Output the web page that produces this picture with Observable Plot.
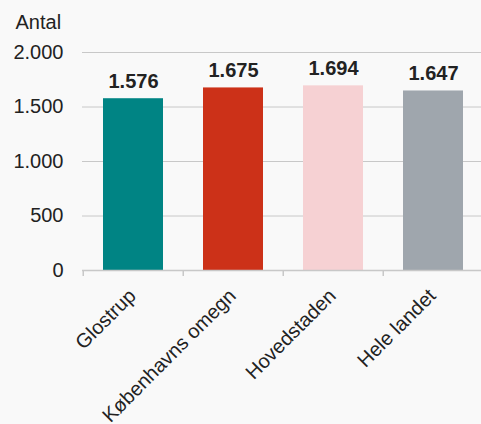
<!DOCTYPE html>
<html>
<head>
<meta charset="utf-8">
<script src="https://cdn.jsdelivr.net/npm/d3@7"></script>
<script src="https://cdn.jsdelivr.net/npm/@observablehq/plot@0.6"></script>
<style>
  html, body { margin: 0; padding: 0; background: #f9f9f9; overflow: hidden; }
  svg { font-family: "Liberation Sans", Arial, sans-serif; }
</style>
</head>
<body>
<div id="chart"></div>
<script>
const categories = ["Glostrup", "Københavns omegn", "Hovedstaden", "Hele landet"];
const values = [1576, 1675, 1694, 1647];
const colors = ["#008484", "#cc3118", "#f6d1d3", "#9fa6ad"];
const yTicks = [0, 500, 1000, 1500, 2000];
const yTitle = "Antal";

const locale = d3.formatLocale({decimal: ",", thousands: ".", grouping: [3], currency: ["", ""]});
const fmt = locale.format(",");

const data = categories.map((c, i) => ({cat: c, value: values[i], color: colors[i]}));

const chart = Plot.plot({
  width: 481,
  height: 424,
  marginTop: 52,
  marginBottom: 154,
  marginLeft: 82,
  marginRight: 0,
  style: {background: "#f9f9f9", fontSize: "20px", color: "#222"},
  x: {domain: categories, range: [82, 484], paddingInner: 0.4, paddingOuter: 0.2, align: 0.5, axis: null},
  y: {domain: [0, 2000], axis: null},
  marks: [
    Plot.gridY(yTicks, {stroke: "#c8c8c8", strokeOpacity: 1, strokeWidth: 1}),
    Plot.axisY(yTicks, {tickSize: 0, tickPadding: 19, tickFormat: fmt, fontSize: 20, fill: "#222", label: null}),
    Plot.barY(data, {x: "cat", y: "value", fill: "color"}),
    Plot.ruleY([0], {stroke: "#c8c8c8", strokeWidth: 1.5}),
    Plot.axisX(categories, {tickSize: 6, tickFormat: () => "", dx: -50.25, stroke: "#c8c8c8", strokeWidth: 1.5, label: null}),
    Plot.axisX(categories, {tickSize: 0, tickPadding: 22, tickRotate: -45, textAnchor: "end", dx: -1, fontSize: 20, fill: "#222", label: null}),
    Plot.text(data, {x: "cat", y: "value", text: d => fmt(d.value), dy: -17, fontSize: 20, fontWeight: "bold", fill: "#222"}),
    Plot.text([yTitle], {frameAnchor: "top-left", text: d => d, dx: -67, dy: -38, fontSize: 20, fill: "#222", textAnchor: "start"})
  ]
});
document.getElementById("chart").appendChild(chart);
</script>
</body>
</html>
